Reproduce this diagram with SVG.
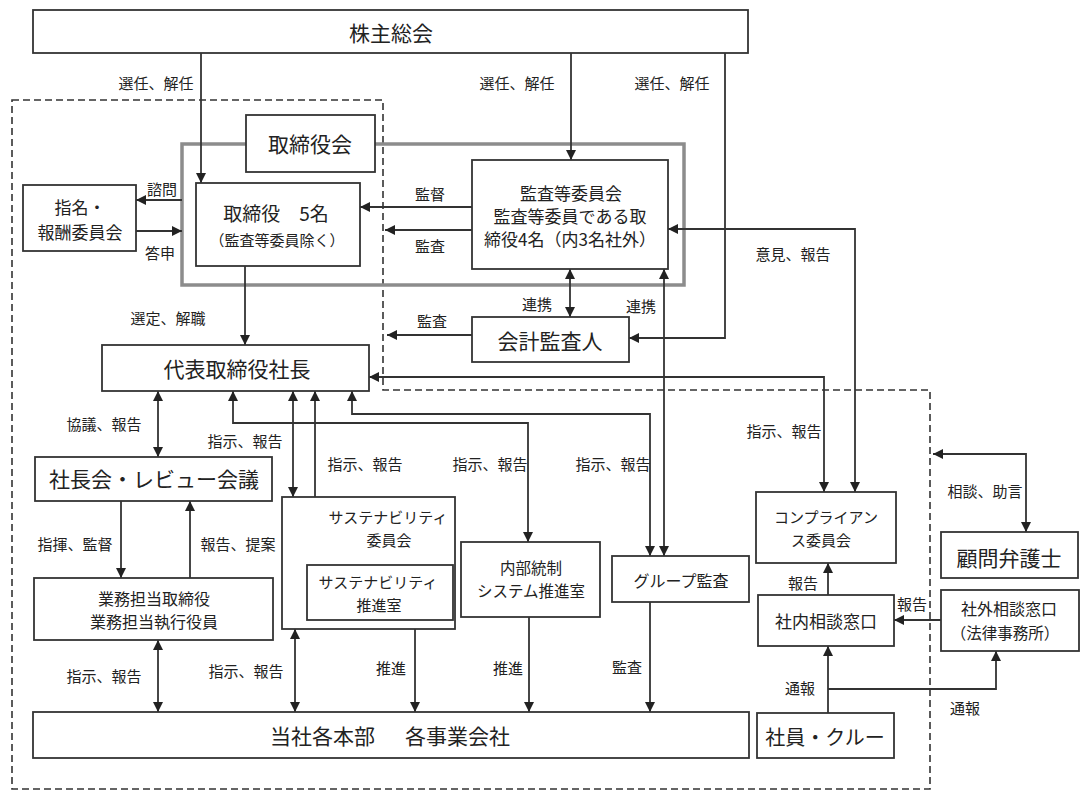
<svg xmlns="http://www.w3.org/2000/svg" width="1081" height="792" viewBox="0 0 1081 792">
<style>
text{font-family:"Noto Sans CJK JP","Noto Sans CJK SC",sans-serif;fill:#222;text-anchor:middle;dominant-baseline:central}
.box{fill:#fff;stroke:#333;stroke-width:1.8}
.lbl{font-size:15px}
.big{font-size:21px}
.c{fill:none;stroke:#333;stroke-width:1.8}
.a{marker-end:url(#ah)}
.b{marker-start:url(#ah);marker-end:url(#ah)}
.frame{fill:none;stroke:#8c8c8c;stroke-width:3.5}
.dash{fill:none;stroke:#333;stroke-width:1.6;stroke-dasharray:7 4}
</style>
<defs>
<marker id="ah" viewBox="0 0 10 10" refX="10" refY="5" markerWidth="10" markerHeight="10" markerUnits="userSpaceOnUse" orient="auto-start-reverse">
<path d="M0,0 L10,5 L0,10 z" fill="#222"/>
</marker>
</defs>
<rect width="1081" height="792" fill="#fff"/>
<path class="dash" d="M12,100 H383 V390 H930 V789 H12 Z"/>
<rect class="frame" x="182" y="144" width="502" height="141"/>
<g id="connectors">
<path class="c a" d="M201,53 V183"/>
<path class="c a" d="M571,53 V160"/>
<path class="c a" d="M725,53 V338 H629"/>
<path class="c a" d="M182,200 H136"/>
<path class="c a" d="M136,231 H182"/>
<path class="c a" d="M472,207 H360"/>
<path class="c a" d="M472,230 H385"/>
<path class="c b" d="M668,229 H855 V492"/>
<path class="c a" d="M245,266 V345"/>
<path class="c b" d="M570,269 V317"/>
<path class="c b" d="M664,269 V556"/>
<path class="c a" d="M472,335 H387"/>
<path class="c b" d="M369,377 H824 V492"/>
<path class="c b" d="M158,391 V457"/>
<path class="c b" d="M233,391 V423 H528 V542"/>
<path class="c b" d="M293,391 V497"/>
<path class="c b" d="M315,391 V565"/>
<path class="c b" d="M352,391 V414 H650 V556"/>
<path class="c a" d="M121,501 V578"/>
<path class="c a" d="M190,578 V501"/>
<path class="c b" d="M158,640 V712"/>
<path class="c b" d="M295,629 V712"/>
<path class="c a" d="M415,625 V712"/>
<path class="c a" d="M529,617 V712"/>
<path class="c a" d="M650,602 V712"/>
<path class="c a" d="M828,595 V563"/>
<path class="c a" d="M941,620 H894"/>
<path class="c a" d="M828,713 V646"/>
<path class="c a" d="M828,689 H996 V651"/>
<path class="c b" d="M933,454 H1026 V532"/>
<text class="lbl" x="156" y="82">選任、解任</text>
<text class="lbl" x="517" y="82">選任、解任</text>
<text class="lbl" x="672" y="82">選任、解任</text>
<text class="lbl" x="162" y="188">諮問</text>
<text class="lbl" x="160" y="252">答申</text>
<text class="lbl" x="430" y="193">監督</text>
<text class="lbl" x="430" y="245">監査</text>
<text class="lbl" x="793" y="253">意見、報告</text>
<text class="lbl" x="168" y="317">選定、解職</text>
<text class="lbl" x="537" y="303">連携</text>
<text class="lbl" x="641" y="305">連携</text>
<text class="lbl" x="432" y="320">監査</text>
<text class="lbl" x="104" y="423">協議、報告</text>
<text class="lbl" x="245" y="440">指示、報告</text>
<text class="lbl" x="365" y="463">指示、報告</text>
<text class="lbl" x="490" y="463">指示、報告</text>
<text class="lbl" x="613" y="463">指示、報告</text>
<text class="lbl" x="784" y="430">指示、報告</text>
<text class="lbl" x="75" y="543">指揮、監督</text>
<text class="lbl" x="238" y="543">報告、提案</text>
<text class="lbl" x="104" y="675">指示、報告</text>
<text class="lbl" x="246" y="670">指示、報告</text>
<text class="lbl" x="391" y="667">推進</text>
<text class="lbl" x="508" y="667">推進</text>
<text class="lbl" x="627" y="666">監査</text>
<text class="lbl" x="985" y="490">相談、助言</text>
<text class="lbl" x="803" y="582">報告</text>
<text class="lbl" x="912" y="603">報告</text>
<text class="lbl" x="800" y="687">通報</text>
<text class="lbl" x="965" y="707">通報</text>
</g>
<g id="kabunushi"><rect class="box" x="33" y="10" width="715" height="43"/><text class="big" x="391" y="32">株主総会</text></g>
<g id="torishimariyakukai"><rect class="box" x="246" y="115" width="129" height="57"/><text class="big" x="310" y="143">取締役会</text></g>
<g id="torishimariyaku"><rect class="box" x="196" y="183" width="164" height="83"/><text x="276" y="212" style="font-size:19px">取締役　5名</text><text x="277" y="239" style="font-size:15px">（監査等委員除く）</text></g>
<g id="shimei"><rect class="box" x="23" y="185" width="113" height="66"/><text x="80" y="206" style="font-size:17px">指名・</text><text x="80" y="231" style="font-size:17px">報酬委員会</text></g>
<g id="kansatou"><rect class="box" x="472" y="160" width="196" height="109"/><text x="571" y="192" style="font-size:17px">監査等委員会</text><text x="570" y="215" style="font-size:17px">監査等委員である取</text><text x="570" y="238" style="font-size:17px">締役4名（内3名社外）</text></g>
<g id="kaikei"><rect class="box" x="472" y="317" width="157" height="45"/><text class="big" x="550" y="340">会計監査人</text></g>
<g id="daihyo"><rect class="box" x="102" y="345" width="267" height="46"/><text class="big" x="237" y="368">代表取締役社長</text></g>
<g id="shachokai"><rect class="box" x="35" y="457" width="237" height="44"/><text class="big" x="154" y="478">社長会・レビュー会議</text></g>
<g id="gyomu"><rect class="box" x="34" y="578" width="239" height="62"/><text x="154" y="598" style="font-size:16px">業務担当取締役</text><text x="154" y="621" style="font-size:16px">業務担当執行役員</text></g>
<g id="sust-iinkai"><rect class="box" x="282" y="497" width="173" height="132"/><text x="388" y="516" style="font-size:15px">サステナビリティ</text><text x="389" y="539" style="font-size:15px">委員会</text></g>
<g id="sust-suishin"><rect class="box" x="307" y="565" width="146" height="55"/><text x="378" y="581" style="font-size:15px">サステナビリティ</text><text x="379" y="604" style="font-size:15px">推進室</text></g>
<g id="naibu"><rect class="box" x="461" y="542" width="139" height="75"/><text x="531" y="567" style="font-size:15.5px">内部統制</text><text x="531" y="590" style="font-size:15.5px">システム推進室</text></g>
<g id="group"><rect class="box" x="612" y="556" width="137" height="46"/><text x="681" y="580" style="font-size:16px">グループ監査</text></g>
<g id="tousha"><rect class="box" x="33" y="712" width="716" height="46"/><text class="big" x="390" y="735">当社各本部<tspan dx="30">各事業会社</tspan></text></g>
<g id="compliance"><rect class="box" x="756" y="492" width="140" height="71"/><text x="826" y="516" style="font-size:15px">コンプライアン</text><text x="821" y="539" style="font-size:15px">ス委員会</text></g>
<g id="komon"><rect class="box" x="941" y="532" width="137" height="46"/><text class="big" x="1009" y="557">顧問弁護士</text></g>
<g id="shanai"><rect class="box" x="758" y="595" width="136" height="51"/><text x="826" y="620" style="font-size:17px">社内相談窓口</text></g>
<g id="shagai"><rect class="box" x="941" y="590" width="138" height="61"/><text x="1009" y="608" style="font-size:16px">社外相談窓口</text><text x="1005" y="632" style="font-size:15.5px">（法律事務所）</text></g>
<g id="shain"><rect class="box" x="757" y="713" width="137" height="45"/><text x="825" y="736" style="font-size:20px">社員・クルー</text></g>
</svg>
